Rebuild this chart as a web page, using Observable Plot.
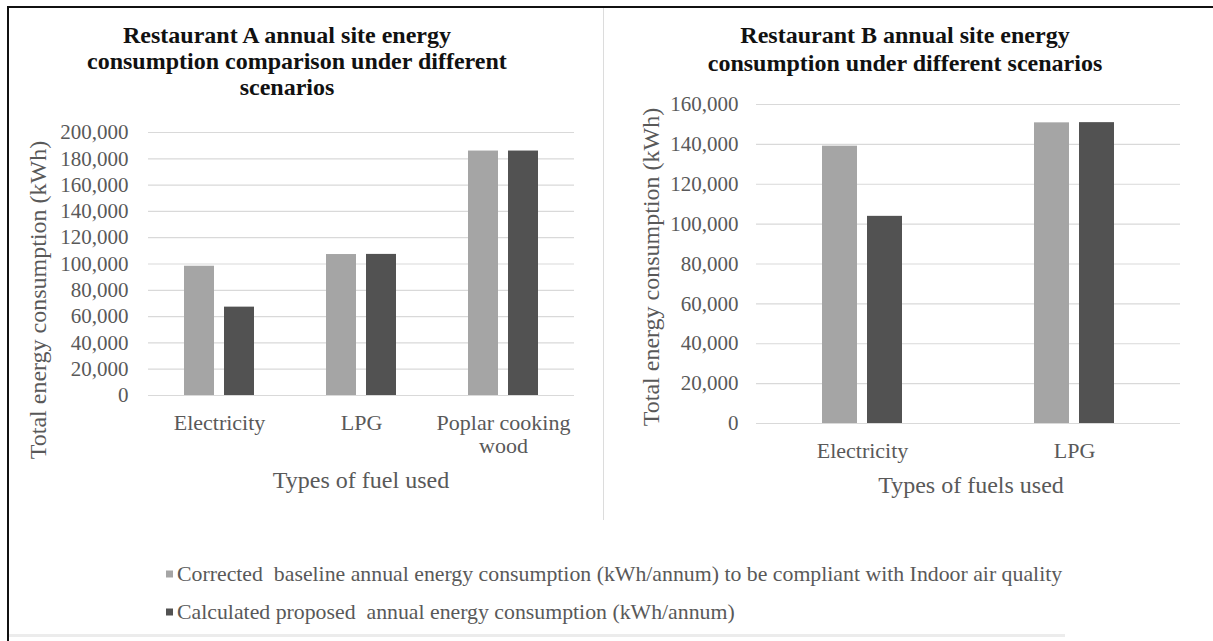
<!DOCTYPE html>
<html><head><meta charset="utf-8">
<script src="https://cdn.jsdelivr.net/npm/d3@7"></script>
<script src="https://cdn.jsdelivr.net/npm/@observablehq/plot@0.6"></script>
<style>
body{margin:0;background:#fff;}
#root{position:relative;width:1213px;height:641px;overflow:hidden;font-family:"Liberation Serif","Times New Roman",serif;background:#fff;}
.abs{position:absolute;}
.title{font-weight:bold;font-size:24px;color:#111;text-align:center;line-height:26px;white-space:nowrap;}
.ytitle{font-size:24px;color:#595959;white-space:nowrap;transform:translate(-50%,-50%) rotate(-90deg);}
.xtitle{font-size:24px;color:#595959;white-space:nowrap;transform:translate(-50%,-50%);}
.leg{font-size:21.8px;color:#595959;white-space:pre;display:flex;align-items:center;transform:translateY(-50%);}
.sw{display:inline-block;width:7px;height:7px;margin-right:4px;}
</style>
</head><body>
<div id="root"></div>
<script>
// ---- data ----
const seriesKeys = ["baseline", "proposed"];
const seriesNames = [
  "Corrected  baseline annual energy consumption (kWh/annum) to be compliant with Indoor air quality",
  "Calculated proposed  annual energy consumption (kWh/annum)"
];
const seriesColors = ["#a5a5a5", "#525252"];

const fuelsA = ["Electricity", "LPG", "Poplar cooking wood"];
const fuelLabelsA = ["Electricity", "LPG", "Poplar cooking\nwood"];
const baselineA = [98300, 107200, 185900];
const proposedA = [67200, 107300, 185900];
const yTicksA = [0, 20000, 40000, 60000, 80000, 100000, 120000, 140000, 160000, 180000, 200000];

const fuelsB = ["Electricity", "LPG"];
const fuelLabelsB = ["Electricity", "LPG"];
const baselineB = [139100, 150800];
const proposedB = [103900, 150900];
const yTicksB = [0, 20000, 40000, 60000, 80000, 100000, 120000, 140000, 160000];

const titleA = ["Restaurant A annual site energy", "consumption comparison under different", "scenarios"];
const titleB = ["Restaurant B annual site energy", "consumption under different scenarios"];
const yTitle = "Total energy consumption (kWh)";
const xTitleA = "Types of fuel used";
const xTitleB = "Types of fuels used";

// ---- build ----
const root = document.getElementById("root");
function el(cls, css, html) {
  const d = document.createElement("div");
  d.className = cls;
  Object.assign(d.style, css);
  d.innerHTML = html;
  root.appendChild(d);
  return d;
}
function rows(fuels, base, prop) {
  return fuels.flatMap((f, i) => [
    {fuel: f, series: seriesKeys[0], value: base[i]},
    {fuel: f, series: seriesKeys[1], value: prop[i]}
  ]);
}
function chart({fuels, labels, base, prop, ticks, ymax, mt, mb, ml, mr, pin, pout, tp}) {
  const fmt = d3.format(",");
  return Plot.plot({
    width: 600, height: 500,
    marginLeft: ml, marginRight: mr, marginTop: mt, marginBottom: mb,
    style: {fontFamily: "'Liberation Serif','Times New Roman',serif", fontSize: "21px", color: "#595959", background: "transparent", overflow: "visible"},
    fx: {domain: fuels, padding: 0, label: null},
    x: {domain: seriesKeys, paddingInner: pin, paddingOuter: pout, axis: null},
    y: {domain: [0, ymax], label: null},
    color: {domain: seriesKeys, range: seriesColors},
    marks: [
      Plot.gridY(ticks, {stroke: "#d9d9d9", strokeOpacity: 1, strokeWidth: 1.2}),
      Plot.barY(rows(fuels, base, prop), {fx: "fuel", x: "series", y: "value", fill: "series"}),
      Plot.axisY(ticks, {tickSize: 0, tickPadding: tp, tickFormat: fmt, label: null, fontSize: 21}),
      Plot.axisFx({anchor: "bottom", tickSize: 0, tickPadding: 18, label: null, fontSize: 22, lineHeight: 1.06,
        tickFormat: d => labels[fuels.indexOf(d)]})
    ]
  });
}

// frame
el("abs", {left: "7px", top: "6px", width: "1220px", height: "2px", background: "#111"}, "");
el("abs", {left: "7px", top: "6px", width: "2px", height: "640px", background: "#111"}, "");
el("abs", {left: "603px", top: "8px", width: "1px", height: "512px", background: "#dcdcdc"}, "");
el("abs", {left: "9px", top: "634px", width: "1056px", height: "3px", background: "#ececec"}, "");

// charts
const cA = chart({fuels: fuelsA, labels: fuelLabelsA, base: baselineA, prop: proposedA, ticks: yTicksA, ymax: 200000,
  mt: 132, mb: 105, ml: 147, mr: 25, pin: 0.24, pout: 0.86, tp: 20});
const wA = el("abs", {left: "0px", top: "0px"}, ""); wA.appendChild(cA);
const cB = chart({fuels: fuelsB, labels: fuelLabelsB, base: baselineB, prop: proposedB, ticks: yTicksB, ymax: 160000,
  mt: 104, mb: 77, ml: 150, mr: 25, pin: 0.217, pout: 1.43, tp: 18});
const wB = el("abs", {left: "605px", top: "0px"}, ""); wB.appendChild(cB);

// titles
el("abs title", {left: "87px", top: "22px", width: "400px"}, titleA.join("<br>"));
el("abs title", {left: "705px", top: "21px", width: "400px", lineHeight: "28px"}, titleB.join("<br>"));
el("abs ytitle", {left: "38px", top: "300px"}, yTitle);
el("abs ytitle", {left: "651px", top: "267px"}, yTitle);
el("abs xtitle", {left: "361px", top: "480px"}, xTitleA);
el("abs xtitle", {left: "971px", top: "485px"}, xTitleB);

// legend
seriesNames.forEach((n, i) => {
  el("abs leg", {left: "166px", top: (574 + i * 38) + "px"},
    `<span class="sw" style="background:${seriesColors[i]}"></span>${n}`);
});
</script>
</body></html>
